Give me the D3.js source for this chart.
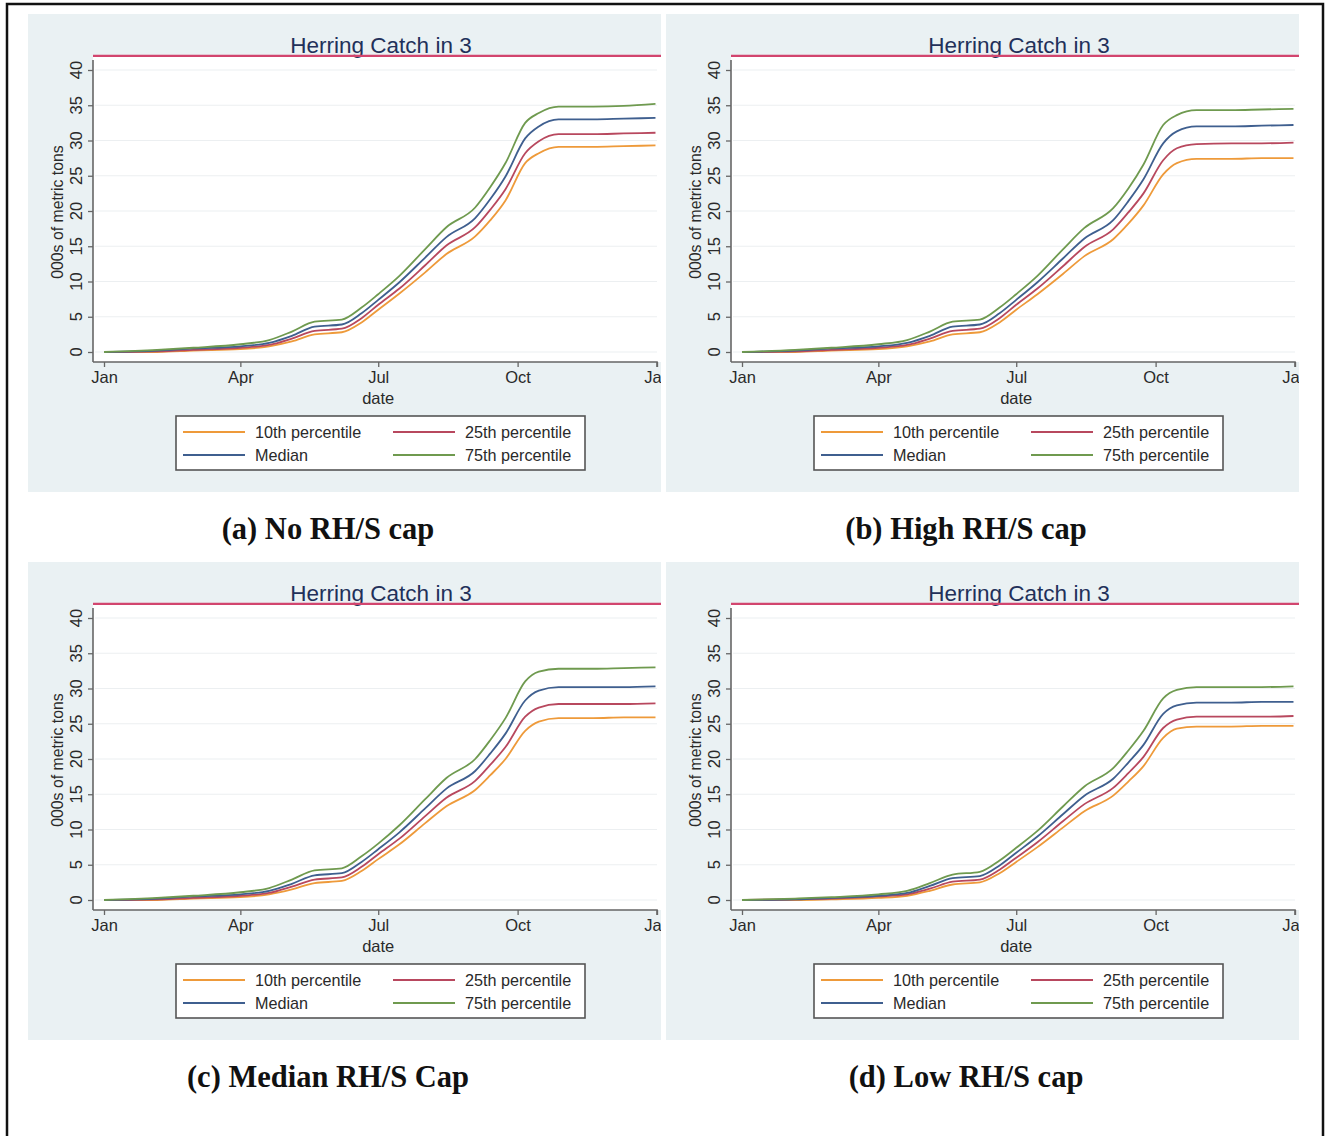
<!DOCTYPE html>
<html>
<head>
<meta charset="utf-8">
<script src="https://cdn.jsdelivr.net/npm/d3@7"></script>
<style>
  body { margin: 0; background: #fff; }
  svg { display: block; }
</style>
</head>
<body>
<svg id="fig" width="1330" height="1136"></svg>
<script>
// Sample dates (month-day) shared by every series
const dates = ["01-01","02-05","03-01","04-01","04-20","05-05","05-20","06-07","06-20","07-01","07-15",
               "08-01","08-15","09-03","09-13","09-23","10-06","10-15","10-28","11-20","12-10","12-31"];

// Cumulative herring catch (000s of metric tons)
// (a) No RH/S cap
const p10_a = [0, 0, 0.2, 0.4, 0.8, 1.5, 2.5, 2.8, 4.2, 6.0, 8.3, 11.3, 13.9, 16.4, 18.7, 21.5, 26.8, 28.2, 29.1, 29.1, 29.2, 29.3];
const p25_a = [0, 0.1, 0.3, 0.6, 1.0, 1.9, 3.0, 3.3, 4.8, 6.7, 9.0, 12.3, 15.1, 17.7, 20.2, 23.1, 28.2, 29.9, 30.9, 30.9, 31.0, 31.1];
const med_a = [0, 0.2, 0.5, 0.8, 1.3, 2.3, 3.6, 3.9, 5.5, 7.4, 9.9, 13.4, 16.3, 19.0, 21.7, 24.9, 30.3, 32.0, 33.0, 33.0, 33.1, 33.2];
const p75_a = [0, 0.3, 0.6, 1.1, 1.7, 2.9, 4.3, 4.6, 6.3, 8.2, 10.8, 14.6, 17.7, 20.5, 23.4, 26.8, 32.5, 33.9, 34.8, 34.8, 34.9, 35.2];
// (b) High RH/S cap
const p10_b = [0, 0, 0.2, 0.4, 0.8, 1.5, 2.5, 2.8, 4.2, 6.0, 8.2, 11.1, 13.6, 16.0, 18.2, 20.8, 25.2, 26.8, 27.4, 27.4, 27.5, 27.5];
const p25_b = [0, 0.1, 0.3, 0.6, 1.0, 1.9, 3.0, 3.3, 4.8, 6.7, 9.0, 12.2, 14.9, 17.4, 19.8, 22.5, 27.2, 28.9, 29.5, 29.6, 29.6, 29.7];
const med_b = [0, 0.2, 0.5, 0.8, 1.3, 2.3, 3.6, 3.9, 5.5, 7.4, 9.9, 13.3, 16.1, 18.7, 21.4, 24.5, 29.6, 31.3, 32.0, 32.0, 32.1, 32.2];
const p75_b = [0, 0.3, 0.6, 1.1, 1.7, 2.9, 4.3, 4.6, 6.3, 8.2, 10.8, 14.6, 17.6, 20.4, 23.2, 26.6, 32.2, 33.6, 34.3, 34.3, 34.4, 34.5];
// (c) Median RH/S cap
const p10_c = [0, 0, 0.2, 0.4, 0.8, 1.5, 2.4, 2.7, 4.1, 5.8, 7.9, 10.9, 13.3, 15.6, 17.7, 20.0, 24.0, 25.3, 25.8, 25.8, 25.9, 25.9];
const p25_c = [0, 0.1, 0.3, 0.6, 1.0, 1.9, 2.9, 3.2, 4.7, 6.5, 8.7, 11.9, 14.5, 16.9, 19.2, 21.7, 26.0, 27.3, 27.8, 27.8, 27.8, 27.9];
const med_c = [0, 0.2, 0.5, 0.8, 1.3, 2.3, 3.5, 3.8, 5.4, 7.2, 9.6, 13.0, 15.8, 18.3, 20.8, 23.6, 28.3, 29.7, 30.2, 30.2, 30.2, 30.3];
const p75_c = [0, 0.3, 0.6, 1.1, 1.7, 2.9, 4.2, 4.5, 6.2, 8.0, 10.6, 14.3, 17.3, 20.0, 22.7, 25.8, 31.0, 32.4, 32.8, 32.8, 32.9, 33.0];
// (d) Low RH/S cap
const p10_d = [0, 0, 0.1, 0.3, 0.6, 1.3, 2.2, 2.5, 3.8, 5.4, 7.5, 10.3, 12.6, 14.8, 16.8, 19.0, 23.0, 24.3, 24.6, 24.6, 24.7, 24.7];
const p25_d = [0, 0.1, 0.2, 0.5, 0.8, 1.6, 2.6, 2.9, 4.3, 6.0, 8.2, 11.2, 13.6, 15.9, 18.0, 20.3, 24.4, 25.6, 26.0, 26.0, 26.0, 26.1];
const med_d = [0, 0.1, 0.3, 0.6, 1.0, 2.0, 3.1, 3.4, 4.9, 6.7, 9.0, 12.2, 14.8, 17.2, 19.5, 22.0, 26.4, 27.6, 28.0, 28.0, 28.1, 28.1];
const p75_d = [0, 0.2, 0.4, 0.8, 1.3, 2.4, 3.6, 4.0, 5.6, 7.4, 9.8, 13.3, 16.1, 18.7, 21.2, 24.0, 28.6, 29.8, 30.2, 30.2, 30.2, 30.3];

const seriesNames = ["10th percentile", "25th percentile", "Median", "75th percentile"];
const seriesColors = ["#ee9a3a", "#b8485e", "#3f5f8f", "#6f9a4f"];
const captions = ["(a) No RH/S cap", "(b) High RH/S cap", "(c) Median RH/S Cap", "(d) Low RH/S cap"];
const panelSeries = [
  [p10_a, p25_a, med_a, p75_a],
  [p10_b, p25_b, med_b, p75_b],
  [p10_c, p25_c, med_c, p75_c],
  [p10_d, p25_d, med_d, p75_d]
];
const chartTitle = "Herring Catch in 3";
const capLevel = 42;                 // catch cap drawn as the top reference line
const yTicks = [0, 5, 10, 15, 20, 25, 30, 35, 40];
const xTickLabels = ["Jan", "Apr", "Jul", "Oct", "Jan"];
const xTickDates = ["2010-01-01", "2010-04-01", "2010-07-01", "2010-10-01", "2011-01-01"];

const parseDay = d3.timeParse("%Y-%m-%d");
const dayDates = dates.map(d => parseDay("2010-" + d));

const svg = d3.select("#fig");
const sans = "'Liberation Sans', Arial, Helvetica, sans-serif";

// outer frame
svg.append("rect")
  .attr("x", 7).attr("y", 4).attr("width", 1316).attr("height", 1150)
  .attr("fill", "none").attr("stroke", "#111").attr("stroke-width", 2.5);

const PW = 633, PH = 478;
const origins = [[28, 14], [666, 14], [28, 562], [666, 562]];

const x = d3.scaleTime()
  .domain([parseDay("2010-01-01"), parseDay("2011-01-01")])
  .range([76, 629]);
const y = d3.scaleLinear().domain([0, 40]).range([338, 56]);
const plotLeft = 65, plotRight = PW, axisY = 348;

origins.forEach((o, i) => {
  const g = svg.append("g").attr("transform", `translate(${o[0]},${o[1]})`);
  const clipId = "clip" + i;
  g.append("clipPath").attr("id", clipId)
    .append("rect").attr("x", 0).attr("y", 0).attr("width", PW).attr("height", PH);
  const inner = g.append("g").attr("clip-path", `url(#${clipId})`);

  // panel background and plot region
  inner.append("rect").attr("width", PW).attr("height", PH).attr("fill", "#eaf1f3");
  inner.append("rect")
    .attr("x", plotLeft).attr("y", y(capLevel))
    .attr("width", plotRight - plotLeft).attr("height", axisY - y(capLevel))
    .attr("fill", "#ffffff");

  // horizontal grid
  inner.append("g").selectAll("line").data(yTicks).join("line")
    .attr("x1", plotLeft + 2).attr("x2", plotRight - 4)
    .attr("y1", d => y(d)).attr("y2", d => y(d))
    .attr("stroke", "#eceff1").attr("stroke-width", 1.2);

  // title
  inner.append("text")
    .attr("x", (plotLeft + plotRight) / 2 + 4).attr("y", 38.5)
    .attr("text-anchor", "middle")
    .attr("font-family", sans).attr("font-size", 22.5)
    .attr("fill", "#22305a")
    .text(chartTitle);

  // cap reference line
  inner.append("line")
    .attr("x1", plotLeft).attr("x2", plotRight)
    .attr("y1", y(capLevel)).attr("y2", y(capLevel))
    .attr("stroke", "#d2456e").attr("stroke-width", 2.2);

  // y axis
  const yAxis = d3.axisLeft(y).tickValues(yTicks).tickSize(5).tickFormat(d3.format("d"));
  const ya = inner.append("g").attr("transform", `translate(${plotLeft},0)`).call(yAxis);
  ya.select(".domain").attr("d", `M0,${y(40) - 10}V${axisY}`).attr("stroke", "#666").attr("stroke-width", 1.6);
  ya.selectAll(".tick line").attr("stroke", "#666").attr("stroke-width", 1.3);
  ya.selectAll(".tick text").remove();
  inner.append("g").selectAll("text").data(yTicks).join("text")
    .attr("transform", d => `translate(54,${y(d)}) rotate(-90)`)
    .attr("text-anchor", "middle")
    .attr("font-family", sans).attr("font-size", 16.5)
    .attr("fill", "#2a2a2a")
    .text(d => d);

  inner.append("text")
    .attr("transform", `translate(35,${(y(40) + y(0)) / 2 + 1}) rotate(-90)`)
    .attr("text-anchor", "middle")
    .attr("font-family", sans).attr("font-size", 15.8)
    .attr("fill", "#2a2a2a")
    .text("000s of metric tons");

  // x axis
  const xDates = xTickDates.map(parseDay);
  const xAxis = d3.axisBottom(x).tickValues(xDates).tickSize(5).tickFormat((d, k) => xTickLabels[k]);
  const xa = inner.append("g").attr("transform", `translate(0,${axisY})`).call(xAxis);
  xa.select(".domain").attr("d", `M${plotLeft},0H${x(xDates[4])}V5`).attr("stroke", "#666").attr("stroke-width", 1.6);
  xa.selectAll(".tick line").attr("stroke", "#666").attr("stroke-width", 1.3);
  xa.selectAll(".tick text")
    .attr("font-family", sans).attr("font-size", 16.5).attr("fill", "#2a2a2a")
    .attr("y", 9).attr("dy", "0.71em");
  inner.append("text")
    .attr("x", x(parseDay("2010-07-01"))).attr("y", 390)
    .attr("text-anchor", "middle")
    .attr("font-family", sans).attr("font-size", 16.5).attr("fill", "#2a2a2a")
    .text("date");

  // percentile lines
  const line = d3.line()
    .x((d, k) => x(dayDates[k]))
    .y(d => y(d))
    .curve(d3.curveMonotoneX);
  panelSeries[i].forEach((vals, s) => {
    inner.append("path")
      .datum(vals)
      .attr("d", line)
      .attr("fill", "none")
      .attr("stroke", seriesColors[s])
      .attr("stroke-width", 1.8)
      .attr("stroke-linejoin", "round");
  });

  // legend
  const lg = inner.append("g").attr("transform", "translate(148,402)");
  lg.append("rect").attr("width", 409).attr("height", 54)
    .attr("fill", "#fff").attr("stroke", "#555").attr("stroke-width", 1.6);
  const legendPos = [[0, 0], [1, 0], [0, 1], [1, 1]];
  seriesNames.forEach((name, s) => {
    const [col, row] = legendPos[s];
    const lx = col === 0 ? 7 : 217;
    const ly = row === 0 ? 16 : 39;
    lg.append("line")
      .attr("x1", lx).attr("x2", lx + 62).attr("y1", ly).attr("y2", ly)
      .attr("stroke", seriesColors[s]).attr("stroke-width", 1.8);
    lg.append("text")
      .attr("x", lx + 72).attr("y", ly + 5.5)
      .attr("font-family", sans).attr("font-size", 16.2).attr("fill", "#2a2a2a")
      .text(name);
  });

  // caption
  g.append("text")
    .attr("x", 300).attr("y", 525)
    .attr("text-anchor", "middle")
    .attr("font-family", "'Liberation Serif', 'Times New Roman', serif")
    .attr("font-weight", "bold").attr("font-size", 30.5)
    .attr("fill", "#111")
    .text(captions[i]);
});
</script>
</body>
</html>
